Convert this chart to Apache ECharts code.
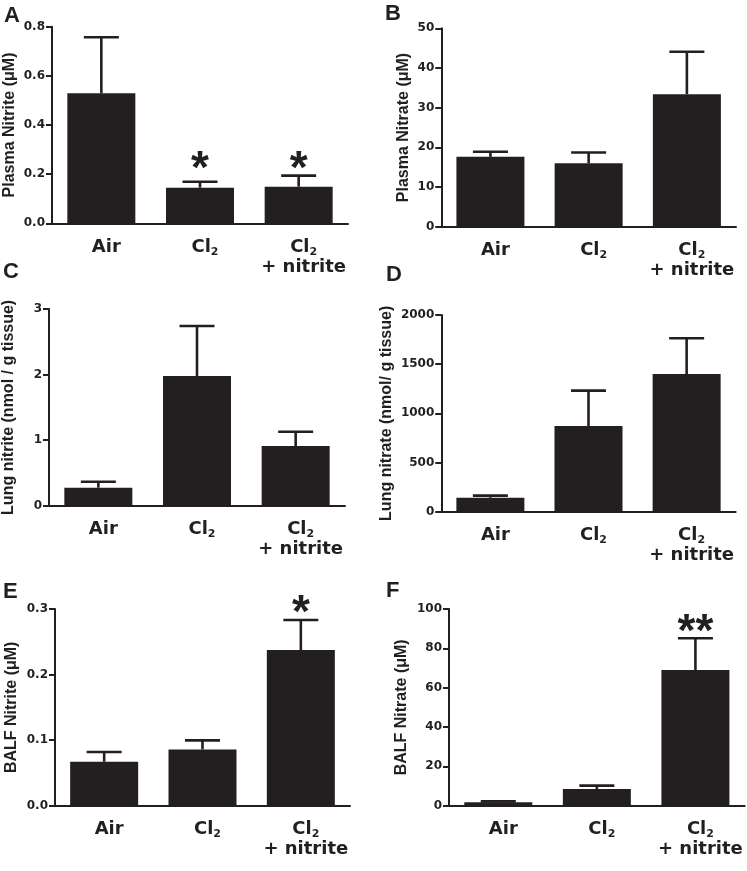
<!DOCTYPE html>
<html><head><meta charset="utf-8">
<script src="https://cdn.jsdelivr.net/npm/echarts@6/dist/echarts.min.js"></script>
<style>html,body{margin:0;padding:0;background:#fff}#c{width:747px;height:871px}</style>
</head><body><div id="c"></div>
<script>
// ---------- data ----------
const categories = ['Air', 'Cl₂', 'Cl₂\n+ nitrite'];

const titleA = 'Plasma Nitrite (μM)';
const meanA = [0.529, 0.145, 0.149];
const semA  = [0.228, 0.024, 0.045];
const sigA  = ['', '*', '*'];
const ticksA = [0, 0.2, 0.4, 0.6, 0.8];

const titleB = 'Plasma Nitrate (μM)';
const meanB = [17.6, 16.0, 33.4];
const semB  = [1.3, 2.7, 10.7];
const sigB  = ['', '', ''];
const ticksB = [0, 10, 20, 30, 40, 50];

const titleC = 'Lung nitrite (nmol / g tissue)';
const meanC = [0.275, 1.978, 0.910];
const semC  = [0.091, 0.762, 0.219];
const sigC  = ['', '', ''];
const ticksC = [0, 1, 2, 3];

const titleD = 'Lung nitrate (nmol/ g tissue)';
const meanD = [142, 871, 1400];
const semD  = [21, 360, 363];
const sigD  = ['', '', ''];
const ticksD = [0, 500, 1000, 1500, 2000];

const titleE = 'BALF Nitrite (μM)';
const meanE = [0.0671, 0.0859, 0.2375];
const semE  = [0.0148, 0.0138, 0.0457];
const sigE  = ['', '', '*'];
const ticksE = [0, 0.1, 0.2, 0.3];

const titleF = 'BALF Nitrate (μM)';
const meanF = [1.7, 8.5, 69.0];
const semF  = [0.5, 1.7, 16.1];
const sigF  = ['', '', '**'];
const ticksF = [0, 20, 40, 60, 80, 100];

const panelLetters = ['A', 'B', 'C', 'D', 'E', 'F'];

// ---------- layout / style ----------
const INK = '#231f20';
const panels = [
  {title: titleA, mean: meanA, sem: semA, sig: sigA, ticks: ticksA, dec: 1, grid: {left: 52, top: 26.7, width: 296, height: 196.6}, gap: 34, letter: [4, 15.5]},
  {title: titleB, mean: meanB, sem: semB, sig: sigB, ticks: ticksB, dec: 0, grid: {left: 441.3, top: 28.3, width: 294.7, height: 198.4}, gap: 30, letter: [385, 13.5]},
  {title: titleC, mean: meanC, sem: semC, sig: sigC, ticks: ticksC, dec: 0, grid: {left: 48.3, top: 309, width: 296.7, height: 196.7}, gap: 32, letter: [3, 271.5]},
  {title: titleD, mean: meanD, sem: semD, sig: sigD, ticks: ticksD, dec: 0, grid: {left: 441.3, top: 315, width: 294.4, height: 196.7}, gap: 47, letter: [386, 275]},
  {title: titleE, mean: meanE, sem: semE, sig: sigE, ticks: ticksE, dec: 1, grid: {left: 55, top: 609, width: 295, height: 196.7}, gap: 35.5, letter: [3, 591.5]},
  {title: titleF, mean: meanF, sem: semF, sig: sigF, ticks: ticksF, dec: 0, grid: {left: 449, top: 609, width: 295.7, height: 196.7}, gap: 39.5, letter: [386, 590.5]}
];

const STAR_SIZE = 46;
const grids = [], xAxes = [], yAxes = [], series = [], graphics = [];

panels.forEach((p, k) => {
  grids.push(Object.assign({containLabel: false}, p.grid));
  xAxes.push({
    type: 'category', gridIndex: k, data: categories,
    axisLine: {lineStyle: {color: INK, width: 2}},
    axisTick: {alignWithLabel: true, length: 6, lineStyle: {color: INK, width: 2}},
    axisLabel: {
      interval: 0, color: INK, fontFamily: 'DejaVu Sans', fontWeight: 'bold', fontSize: 18, lineHeight: 20,
      margin: 14, padding: [0, 0, 0, 10],
      formatter: v => v.replace(/₂/g, '{s|2}'),
      rich: {s: {fontFamily: 'DejaVu Sans', fontWeight: 'bold', fontSize: 11, lineHeight: 11, verticalAlign: 'bottom', color: INK}}
    }
  });
  const t = p.ticks;
  yAxes.push({
    type: 'value', gridIndex: k, min: t[0], max: t[t.length - 1], interval: t[1] - t[0],
    name: p.title, nameLocation: 'middle', nameGap: p.gap,
    nameTextStyle: {fontFamily: 'Liberation Sans', fontWeight: 'bold', fontSize: 16, color: INK},
    axisLine: {show: true, lineStyle: {color: INK, width: 2}},
    axisTick: {show: true, length: 6, lineStyle: {color: INK, width: 2}},
    splitLine: {show: false},
    axisLabel: {color: INK, fontFamily: 'DejaVu Sans', fontWeight: 'bold', fontSize: 12, margin: 7,
      formatter: v => v.toFixed(p.dec)}
  });
  series.push({
    type: 'bar', xAxisIndex: k, yAxisIndex: k, data: p.mean, barWidth: 68,
    itemStyle: {color: INK}, silent: true, animation: false
  });
  series.push({
    type: 'custom', xAxisIndex: k, yAxisIndex: k, animation: false, silent: true, z: 3,
    data: p.mean.map((m, i) => [i, m, m + p.sem[i]]),
    renderItem: (params, api) => {
      const b = api.coord([api.value(0), api.value(1)]);
      const tp = api.coord([api.value(0), api.value(2)]);
      const st = {stroke: INK, lineWidth: 2.6};
      return {type: 'group', children: [
        {type: 'line', shape: {x1: b[0], y1: b[1], x2: tp[0], y2: tp[1]}, style: st},
        {type: 'line', shape: {x1: tp[0] - 17.5, y1: tp[1], x2: tp[0] + 17.5, y2: tp[1]}, style: st}
      ]};
    }
  });
  // significance stars: starred bars share one level above the highest starred error bar
  let level = -Infinity;
  p.sig.forEach((s, i) => { if (s) level = Math.max(level, p.mean[i] + p.sem[i]); });
  const starData = [];
  p.sig.forEach((s, i) => { if (s) starData.push([i, level, s]); });
  if (starData.length) {
    series.push({
      type: 'custom', xAxisIndex: k, yAxisIndex: k, animation: false, silent: true, z: 4,
      data: starData,
      renderItem: (params, api) => {
        const c = api.coord([api.value(0), api.value(1)]);
        return {type: 'text', style: {
          text: starData[params.dataIndex][2], x: c[0], y: c[1] - 15 + STAR_SIZE * 0.21,
          align: 'center', verticalAlign: 'middle', fill: INK,
          font: 'bold ' + STAR_SIZE + 'px "Liberation Sans"'
        }};
      }
    });
  }
  graphics.push({
    type: 'text', left: p.letter[0], top: p.letter[1] - 11,
    style: {text: panelLetters[k], fill: INK, font: 'bold 22px "Liberation Sans"'}
  });
});

const chart = echarts.init(document.getElementById('c'), null, {renderer: 'canvas'});
chart.setOption({
  animation: false, backgroundColor: '#fff',
  grid: grids, xAxis: xAxes, yAxis: yAxes, series: series, graphic: graphics
});
</script></body></html>
